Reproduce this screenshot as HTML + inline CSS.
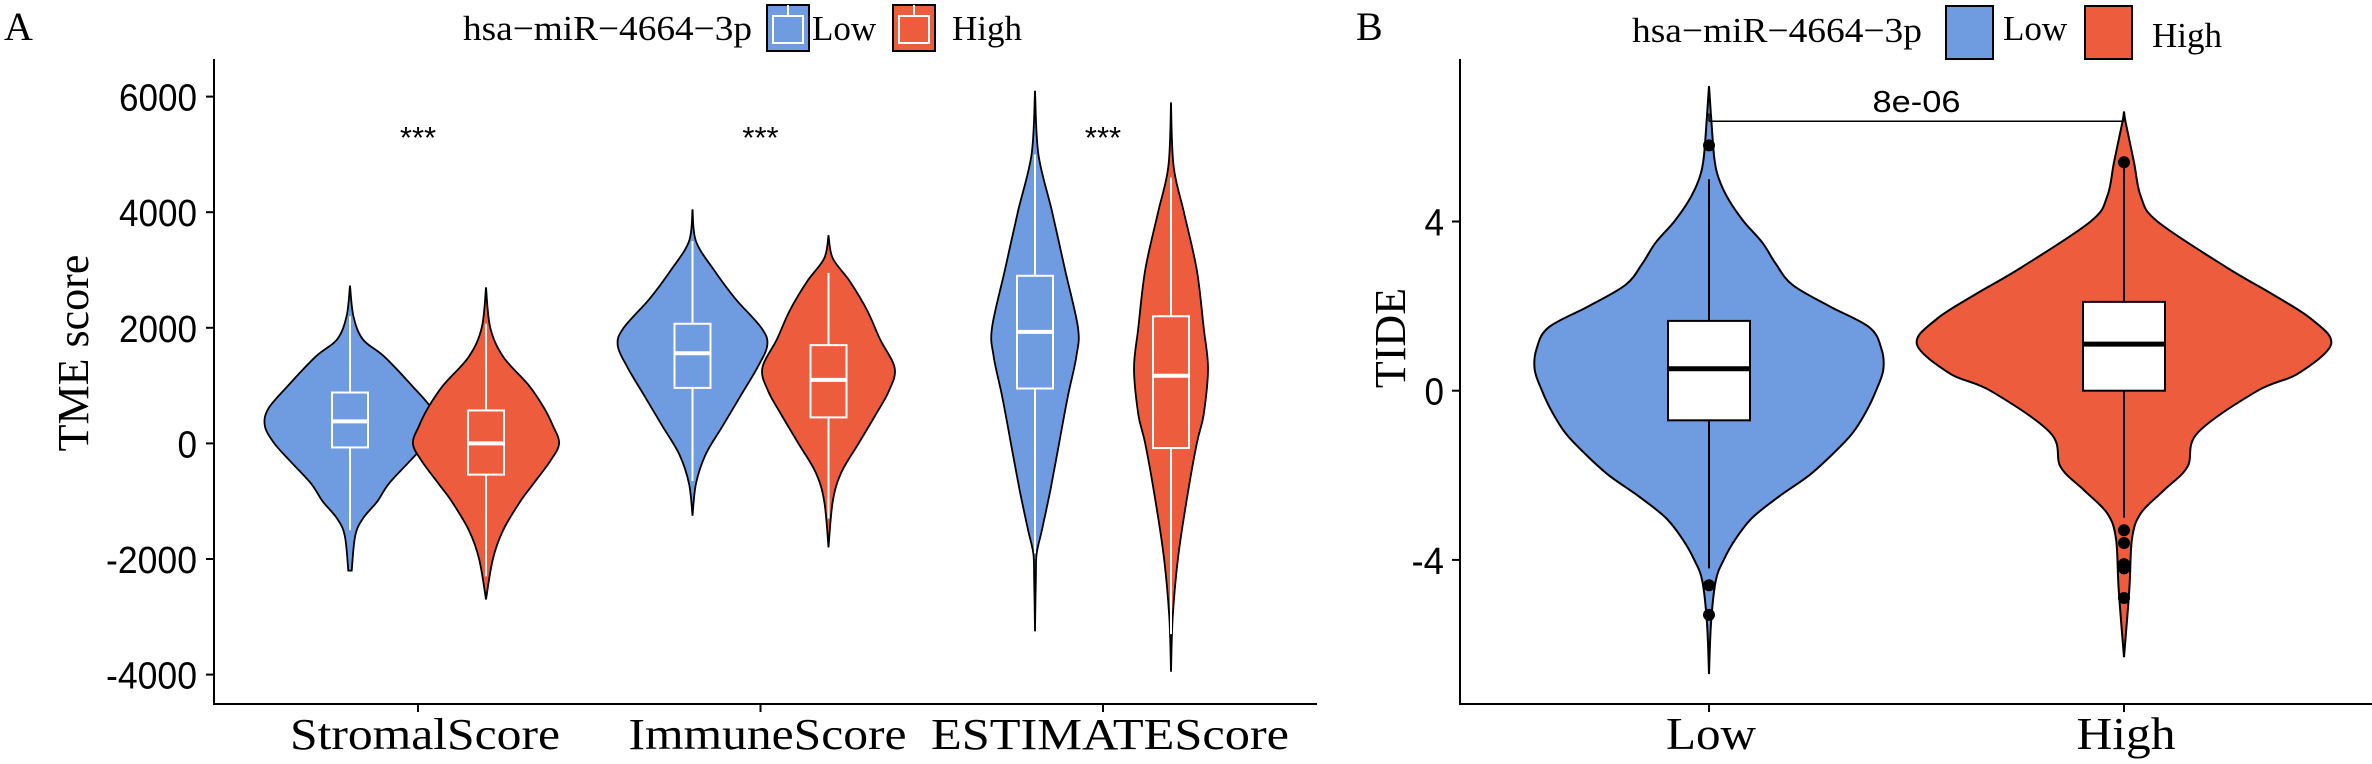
<!DOCTYPE html>
<html><head><meta charset="utf-8"><style>
html,body{margin:0;padding:0;background:#fff;}
svg{display:block;}
</style></head><body>
<svg id="fig" xmlns="http://www.w3.org/2000/svg" width="2372" height="764" viewBox="0 0 2372 764"></svg>
<script>
// ---------- Panel A data ----------
const categoriesA = ["StromalScore","ImmuneScore","ESTIMATEScore"];
const groups = ["Low","High"];
const ticksA = [6000,4000,2000,0,-2000,-4000];
const tickLabelsA = ["6000","4000","2000","0","-2000","-4000"];
const sigA = ["***","***","***"];
const violinValsA = [
 [2730,2200,1800,1500,1000,600,300,0,-300,-700,-1000,-1300,-1600,-2200],
 [2700,2000,1500,1000,600,300,0,-300,-700,-1000,-1500,-2000,-2700],
 [4050,3500,3000,2500,2000,1700,1300,800,300,-200,-700,-1250],
 [3600,3200,2800,2300,1800,1300,900,500,0,-500,-1000,-1800],
 [6100,5000,4000,3000,2000,1500,800,0,-800,-1500,-1900,-2300,-3250],
 [5900,4800,4000,3000,2000,1300,500,0,-1000,-2000,-3000,-3950]
];
const violinDensA = [
 [0,4,15,40,72,95,99,88,70,45,32,15,6,2],
 [0,5,20,50,68,78,85,75,55,40,20,8,0],
 [0,4,25,50,80,87,75,55,35,15,4,0],
 [0,5,25,45,60,77,70,55,35,15,5,0],
 [0,4,20,35,50,48,38,28,18,8,2,1,0],
 [0,3,15,30,38,43,38,30,18,8,2,0]
];
const q1A = [-70,-540,960,450,950,-80];
const medA = [380,0,1560,1100,1930,1170];
const q3A = [880,570,2070,1700,2900,2200];
const whLoA = [-1500,-2300,-650,-1300,-1900,-3300];
const whHiA = [2200,2070,3500,2950,5000,4600];

// ---------- Panel B data ----------
const categoriesB = ["Low","High"];
const ticksB = [4,0,-4];
const tickLabelsB = ["4","0","-4"];
const violinValsB = [
 [7.2,6.5,5.5,5,4.5,4,3.5,3,2.5,2,1.5,1,0.5,0,-0.5,-1,-1.5,-2,-2.5,-3,-3.5,-4,-4.5,-5.5,-6.7],
 [6.6,6.3,5.4,4.6,4,2.9,2.3,1.7,1.1,0.4,0,-1,-1.8,-2.35,-2.9,-3.5,-4.7,-6.3]
];
const violinDensB = [
 [0,3,8,15,30,52,80,100,125,180,240,258,261,250,235,215,185,150,105,65,40,22,10,3,0],
 [0,3,15,25,50,155,220,280,310,260,200,110,95,60,25,12,8,0]
];
const q1B = [-0.7,0];
const medB = [0.52,1.1];
const q3B = [1.65,2.1];
const whLoB = [-4.2,-3.0];
const whHiB = [5.0,5.4];
const outliersB = [[5.8,-4.6,-5.3],[5.4,-3.3,-3.6,-4.1,-4.2,-4.9]];
const pvalB = "8e-06";
const sigYB = 6.37;

const BLUE="#6f9be1", RED="#ee5c3e";
const NS="http://www.w3.org/2000/svg";
const svg=document.getElementById('fig');
function el(tag,attrs,parent){const e=document.createElementNS(NS,tag);for(const k in attrs)e.setAttribute(k,attrs[k]);(parent||svg).appendChild(e);return e;}
function txt(s,attrs,parent){const e=el('text',attrs,parent);e.textContent=s;return e;}

const yA=v=>443.4-v*0.0578;
const catX=i=>418+i*342.5;
const dodge=[-68,68];
const yB=v=>390.7-v*42.3;
const xB=i=>1709+i*415;
const catLenA=[270,278,358];
const catLenB=[90,99];

function spline(pts){
 let d="M"+pts[0][0].toFixed(1)+","+pts[0][1].toFixed(1);
 for(let i=0;i<pts.length-1;i++){
  const p0=pts[Math.max(0,i-1)],p1=pts[i],p2=pts[i+1],p3=pts[Math.min(pts.length-1,i+2)];
  const c1=[p1[0]+(p2[0]-p0[0])/6,p1[1]+(p2[1]-p0[1])/6];
  const c2=[p2[0]-(p3[0]-p1[0])/6,p2[1]-(p3[1]-p1[1])/6];
  d+="C"+c1[0].toFixed(1)+","+c1[1].toFixed(1)+" "+c2[0].toFixed(1)+","+c2[1].toFixed(1)+" "+p2[0].toFixed(1)+","+p2[1].toFixed(1);
 }
 return d;
}
function violinPath(cx,vals,dens,yf,sc){
 const right=vals.map((v,i)=>[cx+dens[i]*sc,yf(v)]);
 const left=vals.map((v,i)=>[cx-dens[i]*sc,yf(v)]).reverse();
 return spline(right)+" L"+spline(left).slice(1)+"Z";
}
function tickText(s,x,y,parent){
 const w=s.replace('-','').length*19.5+(s.startsWith('-')?13:0);
 const tl=txt(s,{x:x,y:y,'text-anchor':'end','font-family':'Liberation Sans, sans-serif','font-size':38,textLength:w,lengthAdjust:'spacingAndGlyphs'},parent);
 return tl;
}

// ---------- Panel A ----------
const gA=el('g',{});


let t=txt("A",{x:4,y:40,'font-family':'Liberation Serif, serif','font-size':40},gA);

const legA=el('g',{},gA);

txt("hsa\u2212miR\u22124664\u22123p",{x:463,y:40,'font-family':'Liberation Serif, serif','font-size':35,textLength:289,lengthAdjust:'spacingAndGlyphs'},legA);
[[767,BLUE,"Low",812],[893,RED,"High",952]].forEach(([x,c,l,tx])=>{
 const r=el('rect',{x:x,y:5,width:42,height:46,fill:c,stroke:'#000','stroke-width':2},legA);
 
 el('rect',{x:x+6,y:16,width:30,height:27,fill:'none',stroke:'#fff','stroke-width':2},legA);
 el('line',{x1:x+21,y1:5,x2:x+21,y2:16,stroke:'#fff','stroke-width':2},legA);
 txt(l,{x:tx,y:40,'font-family':'Liberation Serif, serif','font-size':35},legA);
});
el('line',{x1:214,y1:59,x2:214,y2:705,stroke:'#000','stroke-width':2},gA);
el('line',{x1:213,y1:704,x2:1317,y2:704,stroke:'#000','stroke-width':2},gA);
ticksA.forEach((v,i)=>{
 el('line',{x1:206,y1:yA(v),x2:214,y2:yA(v),stroke:'#000','stroke-width':2},gA);
 const tl=tickText(tickLabelsA[i],197,yA(v)+14,gA);
 
});
t=txt("TME score",{x:0,y:0,transform:'translate(88,353) rotate(-90)','text-anchor':'middle','font-family':'Liberation Serif, serif','font-size':44},gA);

categoriesA.forEach((c,i)=>{
 el('line',{x1:catX(i),y1:704,x2:catX(i),y2:712,stroke:'#000','stroke-width':2},gA);
 const cl=txt(c,{x:catX(i)-catLenA[i]/2+7,y:749,'font-family':'Liberation Serif, serif','font-size':44,textLength:catLenA[i],lengthAdjust:'spacingAndGlyphs'},gA);
 
 const s=txt(sigA[i],{x:catX(i),y:148,'text-anchor':'middle','font-family':'Liberation Sans, sans-serif','font-size':31},gA);
 
 groups.forEach((g,j)=>{
  const k=i*2+j, cx=catX(i)+dodge[j];
  const p=el('path',{d:violinPath(cx,violinValsA[k],violinDensA[k],yA,0.86),fill:j?RED:BLUE,stroke:'#000','stroke-width':1.8},gA);
  
  
  const bg=el('g',{stroke:'#fff','stroke-width':2,fill:'none'},gA);
  
  
  el('line',{x1:cx,y1:yA(whHiA[k]),x2:cx,y2:yA(q3A[k])},bg);
  el('line',{x1:cx,y1:yA(q1A[k]),x2:cx,y2:yA(whLoA[k])},bg);
  el('rect',{x:cx-18,y:yA(q3A[k]),width:36,height:yA(q1A[k])-yA(q3A[k])},bg);
  el('line',{x1:cx-18,y1:yA(medA[k]),x2:cx+18,y2:yA(medA[k]),'stroke-width':4},bg);
 });
});

// ---------- Panel B ----------
const gB=el('g',{});


t=txt("B",{x:1356,y:40,'font-family':'Liberation Serif, serif','font-size':40},gB);

const legB=el('g',{},gB);

txt("hsa\u2212miR\u22124664\u22123p",{x:1632,y:42,'font-family':'Liberation Serif, serif','font-size':35,textLength:290,lengthAdjust:'spacingAndGlyphs'},legB);
[[1946,BLUE,"Low",2003,40],[2085,RED,"High",2152,47]].forEach(([x,c,l,tx,ty])=>{
 const r=el('rect',{x:x,y:6,width:47,height:53,fill:c,stroke:'#000','stroke-width':2},legB);
 
 txt(l,{x:tx,y:ty,'font-family':'Liberation Serif, serif','font-size':35},legB);
});
el('line',{x1:1460,y1:59,x2:1460,y2:705,stroke:'#000','stroke-width':2},gB);
el('line',{x1:1459,y1:704,x2:2372,y2:704,stroke:'#000','stroke-width':2},gB);
ticksB.forEach((v,i)=>{
 el('line',{x1:1452,y1:yB(v),x2:1460,y2:yB(v),stroke:'#000','stroke-width':2},gB);
 const tl=tickText(tickLabelsB[i],1444,yB(v)+14,gB);
 
});
t=txt("TIDE",{x:0,y:0,transform:'translate(1405,338) rotate(-90)','text-anchor':'middle','font-family':'Liberation Serif, serif','font-size':44},gB);

categoriesB.forEach((c,i)=>{
 const cx=xB(i);
 el('line',{x1:cx,y1:704,x2:cx,y2:712,stroke:'#000','stroke-width':2},gB);
 const cl=txt(c,{x:cx-catLenB[i]/2+2,y:749,'font-family':'Liberation Serif, serif','font-size':46,textLength:catLenB[i],lengthAdjust:'spacingAndGlyphs'},gB);
 
 const p=el('path',{d:violinPath(cx,violinValsB[i],violinDensB[i],yB,0.668),fill:i?RED:BLUE,stroke:'#000','stroke-width':2},gB);
 
 
 const bg=el('g',{stroke:'#000','stroke-width':2},gB);
 
 
 el('line',{x1:cx,y1:yB(whHiB[i]),x2:cx,y2:yB(whLoB[i])},bg);
 el('rect',{x:cx-41,y:yB(q3B[i]),width:82,height:yB(q1B[i])-yB(q3B[i]),fill:'#fff'},bg);
 el('line',{x1:cx-41,y1:yB(medB[i]),x2:cx+41,y2:yB(medB[i]),'stroke-width':5},bg);
 outliersB[i].forEach(v=>{
  const o=el('circle',{cx:cx,cy:yB(v),r:6,fill:'#000',stroke:'none'},gB);
  
  
 });
});
const br=el('g',{stroke:'#000','stroke-width':1.5},gB);

el('line',{x1:xB(0),y1:yB(sigYB),x2:xB(1),y2:yB(sigYB)},br);
el('line',{x1:xB(0),y1:yB(sigYB),x2:xB(0),y2:yB(sigYB)-8},br);
el('line',{x1:xB(1),y1:yB(sigYB),x2:xB(1),y2:yB(sigYB)-8},br);
t=txt(pvalB,{x:(xB(0)+xB(1))/2-44,y:yB(sigYB)-9,'font-family':'Liberation Sans, sans-serif','font-size':31,textLength:88,lengthAdjust:'spacingAndGlyphs'},gB);

</script>
</body></html>
